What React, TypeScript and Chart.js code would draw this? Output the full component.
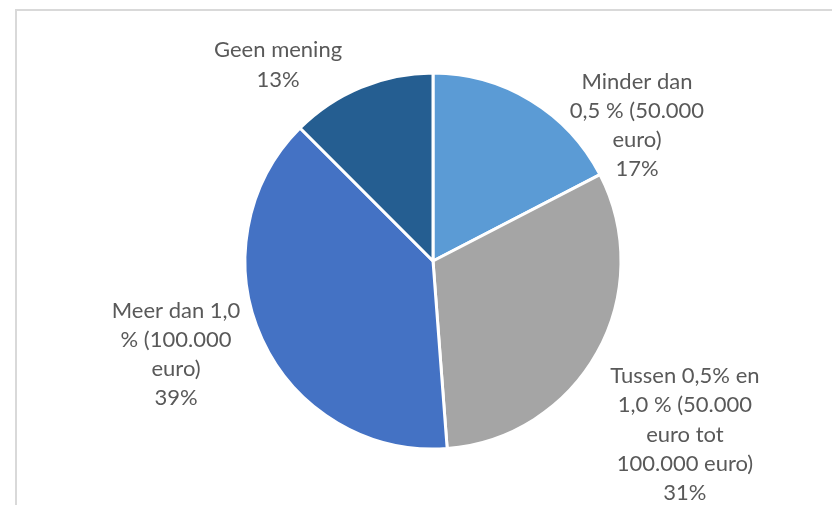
import React, { useEffect, useRef } from "react";
import { Chart, registerables } from "chart.js";

Chart.register(...registerables);

const categories = [
  ["Minder dan", "0,5 % (50.000", "euro)"],
  ["Tussen 0,5% en", "1,0 % (50.000", "euro tot", "100.000 euro)"],
  ["Meer dan 1,0", "% (100.000", "euro)"],
  ["Geen mening"],
];
const values = [17.4, 31.4, 38.7, 12.5];
const percentLabels = ["17%", "31%", "39%", "13%"];
const colors = ["#5B9BD5", "#A5A5A5", "#4472C4", "#255E91"];

// label block centre, relative to pie centre, in units of the radius
const labelOffsets = [
  [1.085, -0.721],
  [1.34, 0.923],
  [-1.367, 0.497],
  [-0.824, -1.043],
];

const FONT = "22px Lato";
const LINE_H = 29.3;

const labelPlugin = {
  id: "outsideLabels",
  afterDatasetsDraw(chart: any) {
    const ctx = chart.ctx;
    const meta = chart.getDatasetMeta(0);
    ctx.save();
    ctx.font = FONT;
    ctx.fillStyle = "#595959";
    ctx.textAlign = "center";
    ctx.textBaseline = "middle";
    meta.data.forEach((arc: any, i: number) => {
      const r = arc.outerRadius;
      const cx = arc.x + labelOffsets[i][0] * r;
      const cy = arc.y + labelOffsets[i][1] * r;
      const lines = [...categories[i], percentLabels[i]];
      const y0 = cy - ((lines.length - 1) * LINE_H) / 2;
      lines.forEach((ln, j) => ctx.fillText(ln, cx, y0 + j * LINE_H));
    });
    ctx.restore();
  },
};

export default function App() {
  const ref = useRef<HTMLCanvasElement>(null);
  useEffect(() => {
    const chart = new Chart(ref.current!, {
      type: "pie",
      data: {
        labels: categories.map((c) => c.join(" ")),
        datasets: [
          {
            data: values,
            backgroundColor: colors,
            borderColor: "#ffffff",
            borderWidth: 3,
          },
        ],
      },
      options: {
        responsive: false,
        animation: false,
        layout: { padding: { left: 243.5, right: 209.5, top: 71.5, bottom: 54.5 } },
        plugins: {
          legend: { display: false },
          tooltip: { enabled: false },
        },
      },
      plugins: [labelPlugin],
    });
    return () => chart.destroy();
  }, []);
  return (
    <div style={{ position: "fixed", left: 0, top: 0, width: 832, height: 505, background: "#fff", overflow: "hidden" }}>
      <div
        style={{
          position: "absolute",
          left: 15,
          top: 9,
          width: 900,
          height: 600,
          borderTop: "2px solid #D9D9D9",
          borderLeft: "2px solid #D9D9D9",
        }}
      />
      <canvas ref={ref} width={832} height={505} style={{ position: "absolute", left: 0, top: 0, display: "block" }} />
    </div>
  );
}
